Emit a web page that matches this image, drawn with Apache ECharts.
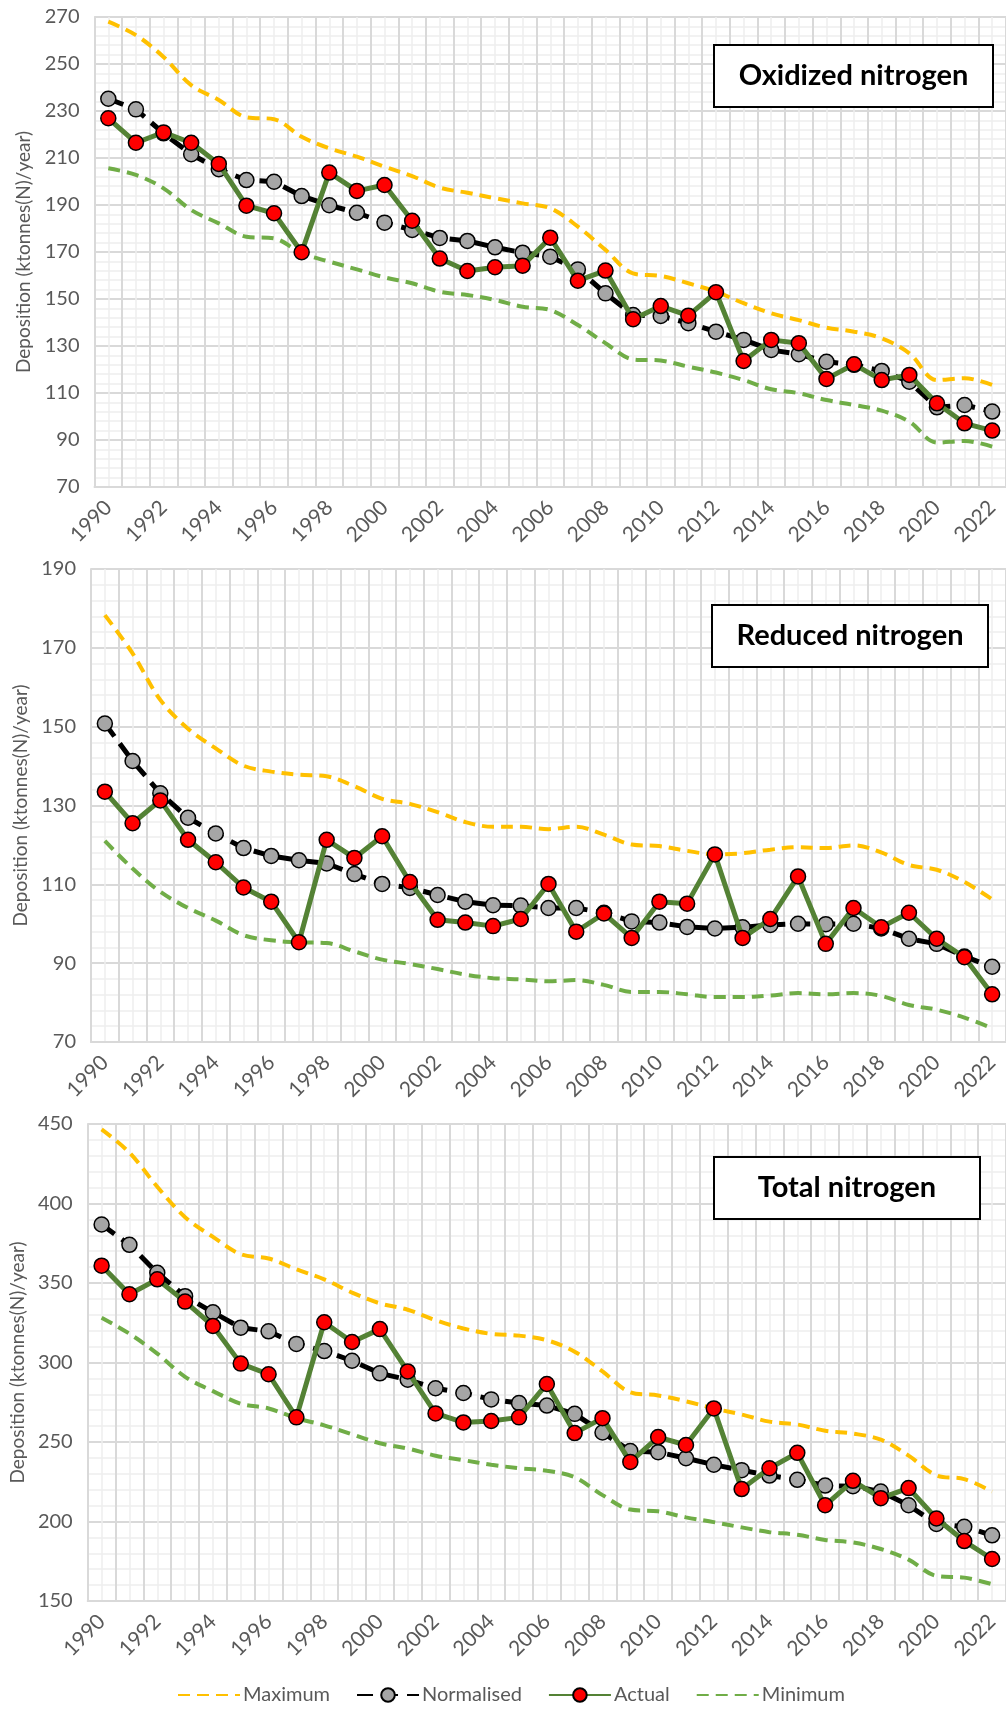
<!DOCTYPE html>
<html>
<head>
<meta charset="utf-8">
<script src="https://cdn.jsdelivr.net/npm/echarts@6/dist/echarts.min.js"></script>
<style>
  html, body { margin: 0; padding: 0; background: #fff; }
  #chart { width: 1006px; height: 1709px; }
</style>
</head>
<body>
<div id="chart"></div>
<script>
// years on the category axis
var years = [];
for (var y = 1990; y <= 2022; y++) years.push(String(y));

// Oxidized nitrogen
var oxMax = [268, 262.3, 253, 241, 234.7, 227.3, 226.5, 219, 214.1, 210.6, 206.3, 202.3, 197.4, 195.2, 192.9,
  190.7, 188.6, 180.8, 170.9, 160.9, 159.8, 156.7, 153.1, 148.2, 143.9, 141, 137.8, 136.1, 133.3, 126.9, 115.5, 116.3, 113.4];
var oxNorm = [235.2, 230.7, 220.5, 211.6, 205.2, 200.6, 199.9, 193.8, 189.9, 186.7, 182.5, 179.4, 176, 174.7, 172,
  169.7, 168, 162.6, 152.4, 143.2, 142.8, 139.7, 136.1, 132.6, 128.3, 126.5, 123.3, 122, 119.4, 114.8, 103.9, 104.9, 102.1];
var oxActual = [226.9, 216.5, 220.9, 216.5, 207.5, 189.7, 186.5, 169.9, 203.8, 196, 198.5, 183.3, 167.2, 161.9, 163.5,
  164.2, 176.1, 157.8, 162.1, 141.4, 147, 142.9, 152.9, 123.6, 132.6, 131.2, 116, 122.2, 115.5, 117.7, 105.6, 97.1, 94];
var oxMin = [205.6, 202.8, 197.1, 187.9, 182.2, 176.5, 175.8, 169.5, 165.9, 162.6, 159.2, 156.7, 153.1, 151.7, 149.6,
  146.7, 145.3, 138.9, 131.2, 124.3, 123.8, 121.2, 118.7, 115.5, 111.6, 109.9, 107, 104.9, 102.5, 97.8, 88.9, 89.6, 87.2];

// Reduced nitrogen
var redMax = [178.3, 168.6, 156.8, 149.5, 144.5, 140.1, 138.6, 137.8, 137.4, 134.9, 131.7, 130.4, 128.3, 125.8, 124.6,
  124.6, 124, 124.6, 122.6, 120.1, 119.7, 118.5, 117.6, 117.9, 118.8, 119.4, 119.2, 119.9, 118.1, 114.9, 113.7, 110.6, 106.2];
var redNorm = [150.8, 141.3, 133.1, 126.9, 122.9, 119.2, 117.2, 116.1, 115.3, 112.6, 110.1, 109.1, 107.3, 105.6, 104.7,
  104.6, 104, 104, 102.8, 100.6, 100.3, 99.2, 98.8, 99.1, 99.7, 100, 99.9, 100, 98.8, 96.2, 94.9, 91.7, 89.1];
var redActual = [133.5, 125.5, 131.3, 121.3, 115.6, 109.2, 105.6, 95.3, 121.3, 116.7, 122.2, 110.6, 101, 100.3, 99.4,
  101.2, 110.1, 98, 102.6, 96.4, 105.6, 105.1, 117.6, 96.4, 101.2, 112, 94.9, 104, 99.1, 102.8, 96.2, 91.5, 82.1];
var redMin = [121, 114, 108.1, 104, 100.8, 97.1, 95.8, 95.3, 95.1, 93, 90.9, 89.8, 88.5, 87.1, 86.2,
  85.9, 85.4, 85.7, 84.5, 82.7, 82.7, 82.1, 81.4, 81.4, 81.8, 82.4, 82.1, 82.4, 81.7, 79.4, 78.2, 76.2, 73.5];

// Total nitrogen
var totMax = [446.6, 432, 410.5, 391.4, 379, 368.1, 365.4, 358.6, 352.3, 344, 337.2, 333.2, 326.6, 321.4, 318,
  316.9, 314, 306.8, 294.4, 281.3, 279.3, 275.6, 271.1, 267.3, 262.8, 261, 257.1, 255.3, 251.5, 241.4, 229, 226.7, 218.8];
var totNorm = [386.8, 374, 356.4, 341.7, 331.6, 321.9, 319.6, 311.7, 307.2, 301.1, 293.2, 289.2, 283.8, 280.8, 276.8,
  274.5, 272.9, 267.7, 256, 244.3, 243.6, 239.8, 235.7, 232.3, 228.9, 226.2, 222.6, 222.2, 218.8, 210.2, 198.5, 196.7, 191.3];
var totActual = [360.9, 342.9, 352.3, 338.3, 323, 299.3, 292.6, 265.5, 325.3, 312.9, 321, 294.4, 268, 262.3, 263.2,
  265.5, 286.5, 255.6, 265, 237.5, 253.1, 248.1, 271.1, 220.4, 233.5, 243.2, 210.2, 225.6, 214.7, 221, 201.9, 187.7, 176.4];
var totMin = [328.2, 318.1, 305.6, 291, 282, 274.1, 271.1, 265, 260.5, 254.9, 249.2, 245.9, 241.4, 238.6, 235.7,
  233.5, 231.9, 227.8, 216.6, 207.5, 206.4, 202.6, 199.6, 196.3, 193.3, 191.7, 188.4, 186.8, 182.7, 176, 165.8, 164.7, 160.6];

var titles = ['Oxidized nitrogen', 'Reduced nitrogen', 'Total nitrogen'];
var yMins = [70, 70, 150];
var yMaxs = [270, 190, 450];
var ySteps = [20, 20, 50];

(function() {
  var muted = '#595959';
  var major = '#d9d9d9';
  var minor = '#eeeeee';
  var font = 'Lato, "Noto Sans", sans-serif';
  var yName = 'Deposition (ktonnes(N)/year)';

  var panels = [
    { grid: { left: 94.5, top: 17, width: 914.5, height: 470 }, box: [714, 45, 279, 62],
      data: [oxMax, oxNorm, oxActual, oxMin] },
    { grid: { left: 91, top: 569, width: 921.7, height: 473 }, box: [712, 605, 276, 62],
      data: [redMax, redNorm, redActual, redMin] },
    { grid: { left: 86, top: 1124, width: 928.3, height: 477 }, box: [714, 1157, 266, 62],
      data: [totMax, totNorm, totActual, totMin] }
  ];

  var chart = echarts.init(document.getElementById('chart'), null, { renderer: 'canvas' });
  var grid = [], xAxis = [], yAxis = [], series = [], graphic = [];

  panels.forEach(function(p, i) {
    grid.push(p.grid);
    // category axis carrying the data and labels
    xAxis.push({
      type: 'category', gridIndex: i, data: years, boundaryGap: true,
      axisTick: { show: false },
      axisLine: { lineStyle: { color: major, width: 2 } },
      axisLabel: { interval: 1, rotate: 45, color: muted, fontSize: 21, fontFamily: font, margin: 17 },
      splitLine: { show: false }
    });
    // helper value axis for the vertical major/minor grid lines
    xAxis.push({
      type: 'value', gridIndex: i, min: 0, max: years.length, interval: 1,
      axisLine: { show: false }, axisTick: { show: false }, axisLabel: { show: false },
      splitLine: { show: true, lineStyle: { color: major, width: 2 } },
      minorTick: { show: false, splitNumber: 2 },
      minorSplitLine: { show: true, lineStyle: { color: minor, width: 1.5 } }
    });
    yAxis.push({
      type: 'value', gridIndex: i, min: yMins[i], max: yMaxs[i], interval: ySteps[i],
      name: yName, nameLocation: 'middle', nameGap: 56, nameRotate: 90,
      nameTextStyle: { color: muted, fontSize: 19, fontFamily: font },
      axisLine: { show: true, lineStyle: { color: major, width: 2 } },
      axisTick: { show: false },
      axisLabel: { color: muted, fontSize: 20, fontFamily: font, margin: 15 },
      splitLine: { lineStyle: { color: major, width: 2 } },
      minorTick: { show: false, splitNumber: 5 },
      minorSplitLine: { show: true, lineStyle: { color: minor, width: 1.5 } }
    });

    var xi = i * 2;
    series.push({
      name: 'Maximum', type: 'line', xAxisIndex: xi, yAxisIndex: i, data: p.data[0],
      smooth: 0.35, symbol: 'none', z: 2,
      lineStyle: { color: '#ffc000', width: 4, type: [12, 7] }, itemStyle: { color: '#ffc000' }
    });
    series.push({
      name: 'Normalised', type: 'line', xAxisIndex: xi, yAxisIndex: i, data: p.data[1],
      symbol: 'circle', symbolSize: 15, z: 3,
      lineStyle: { color: '#000', width: 5, type: [16, 9] },
      itemStyle: { color: '#a6a6a6', borderColor: '#000', borderWidth: 1.5 }
    });
    series.push({
      name: 'Actual', type: 'line', xAxisIndex: xi, yAxisIndex: i, data: p.data[2],
      symbol: 'circle', symbolSize: 15, z: 4,
      lineStyle: { color: '#548235', width: 5 },
      itemStyle: { color: '#ff0000', borderColor: '#000', borderWidth: 1.5 }
    });
    series.push({
      name: 'Minimum', type: 'line', xAxisIndex: xi, yAxisIndex: i, data: p.data[3],
      smooth: 0.35, symbol: 'none', z: 2,
      lineStyle: { color: '#70ad47', width: 4, type: [12, 7] }, itemStyle: { color: '#70ad47' }
    });

    var b = p.box;
    graphic.push({
      type: 'rect', z: 10, shape: { x: b[0], y: b[1], width: b[2], height: b[3] },
      style: { fill: '#fff', stroke: '#000', lineWidth: 2 }
    });
    graphic.push({
      type: 'text', z: 11, x: b[0] + b[2] / 2, y: b[1] + b[3] / 2,
      style: { text: titles[i], align: 'center', verticalAlign: 'middle',
        font: 'bold 29px ' + font, fill: '#000' }
    });
  });

  chart.setOption({
    animation: false,
    backgroundColor: '#fff',
    grid: grid,
    xAxis: xAxis,
    yAxis: yAxis,
    series: series,
    graphic: graphic,
    legend: {
      data: [
        { name: 'Maximum', itemStyle: { opacity: 0 } },
        { name: 'Normalised' },
        { name: 'Actual' },
        { name: 'Minimum', itemStyle: { opacity: 0 } }
      ],
      left: 172, top: 1680,
      itemWidth: 62, itemHeight: 17, itemGap: 26,
      textStyle: { color: muted, fontSize: 20, fontFamily: '"Liberation Sans Narrow", ' + font, padding: [0, 0, 0, -2] }
    }
  });
  window.addEventListener('resize', function() { chart.resize(); });
})();
</script>
</body>
</html>
